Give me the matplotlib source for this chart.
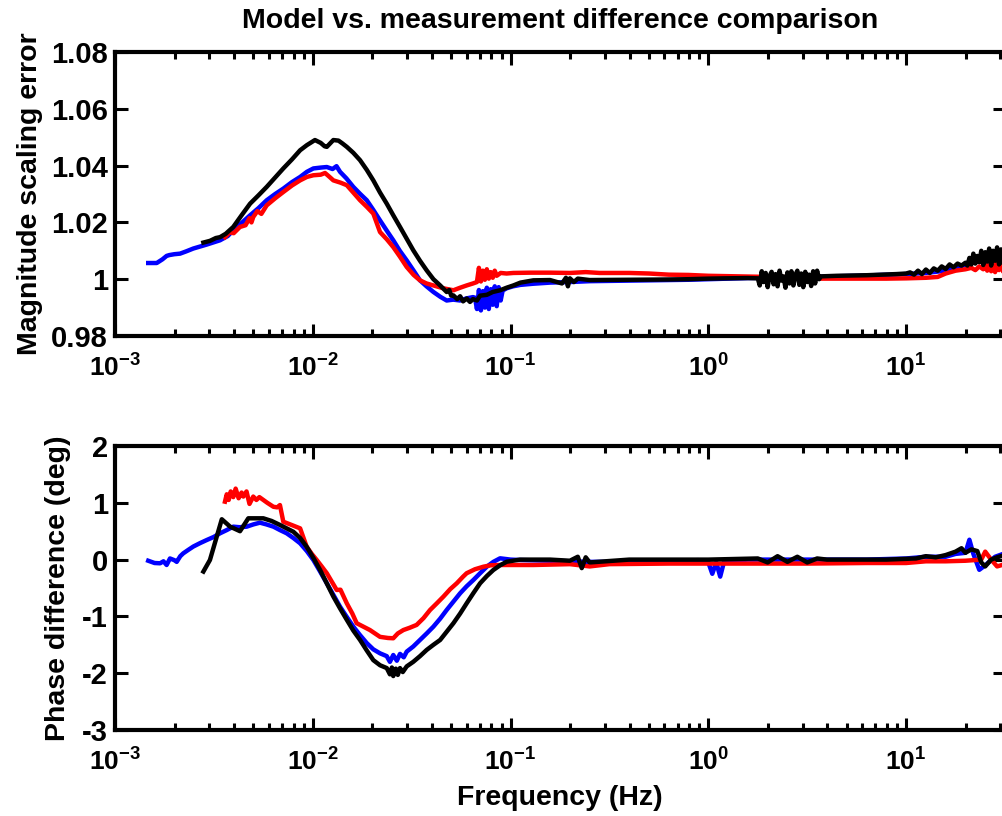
import numpy as np
import matplotlib
matplotlib.use("Agg")
import matplotlib.pyplot as plt
from matplotlib.ticker import FixedLocator, FuncFormatter, LogLocator, NullFormatter

plt.rcParams["font.family"] = ["Liberation Sans", "DejaVu Sans"]
plt.rcParams["font.weight"] = "bold"
plt.rcParams["mathtext.fontset"] = "custom"
plt.rcParams["mathtext.rm"] = "Liberation Sans:bold"
plt.rcParams["mathtext.bf"] = "Liberation Sans:bold"
plt.rcParams["mathtext.default"] = "bf"
plt.rcParams["axes.unicode_minus"] = False

# ---- magnitude scaling error (frequency given as log10 Hz) ----
mag_blue_logf = [-2.832, -2.789, -2.760, -2.739, -2.725, -2.700, -2.671, -2.640, -2.604, -2.536,
                 -2.469, -2.430, -2.402, -2.360, -2.317, -2.275, -2.233, -2.190, -2.149, -2.105,
                 -2.064, -2.030, -1.997, -1.960, -1.929, -1.900, -1.880, -1.862, -1.830, -1.795,
                 -1.760, -1.727, -1.695, -1.660, -1.625, -1.593, -1.560, -1.525, -1.490, -1.458,
                 -1.425, -1.390, -1.355, -1.323, -1.290, -1.255, -1.225, -1.190,
                 -1.180, -1.170, -1.160, -1.150, -1.140, -1.130, -1.120, -1.110, -1.100, -1.090,
                 -1.080, -1.070, -1.060, -1.050, -1.040,
                 -1.020, -0.987, -0.950, -0.886, -0.800, -0.700, -0.600, -0.500, -0.300, -0.100,
                 0.000, 0.200, 0.500, 0.750, 1.000, 1.100, 1.200, 1.250, 1.300, 1.350,
                 1.400, 1.450, 1.490]
mag_blue = [1.0057, 1.0057, 1.0070, 1.0082, 1.0085, 1.0088, 1.0090, 1.0098, 1.0108, 1.0122,
            1.0137, 1.0152, 1.0172, 1.0198, 1.0225, 1.0250, 1.0278, 1.0300, 1.0319, 1.0342,
            1.0360, 1.0378, 1.0390, 1.0393, 1.0395, 1.0388, 1.0398, 1.0378, 1.0355, 1.0325,
            1.0300, 1.0278, 1.0245, 1.0207, 1.0170, 1.0137, 1.0100, 1.0066, 1.0030, 0.9996,
            0.9975, 0.9955, 0.9938, 0.9925, 0.9928, 0.9925, 0.9932, 0.9937,
            0.9935, 0.9895, 0.9962, 0.9890, 0.9958, 0.9900, 0.9970, 0.9895, 0.9965, 0.9910,
            0.9975, 0.9905, 0.9972, 0.9925, 0.9960,
            0.9968, 0.9975, 0.9980, 0.9984, 0.9988, 0.9990, 0.9993, 0.9994, 0.9996, 0.9998,
            1.0000, 1.0004, 1.0008, 1.0012, 1.0018, 1.0022, 1.0030, 1.0042, 1.0050, 1.0060,
            1.0065, 1.0075, 1.0080]

mag_red_logf = [-2.444, -2.420, -2.400, -2.368, -2.340, -2.320, -2.310, -2.301, -2.280, -2.260,
                -2.233, -2.190, -2.149, -2.105, -2.064, -2.030, -1.997, -1.960, -1.938, -1.915,
                -1.896, -1.860, -1.828, -1.795, -1.761, -1.727, -1.694, -1.660, -1.625, -1.593,
                -1.560, -1.525, -1.490, -1.458, -1.425, -1.390, -1.340, -1.289, -1.255, -1.222,
                -1.190, -1.170, -1.160, -1.150, -1.140, -1.130, -1.120, -1.110, -1.100, -1.090,
                -1.080, -1.070, -1.050,
                -1.020, -0.986, -0.900, -0.800, -0.700, -0.620, -0.550, -0.400, -0.300, -0.200,
                -0.100, 0.000, 0.150, 0.300, 0.450, 0.550, 0.700, 0.900, 1.000, 1.100,
                1.160, 1.200, 1.250, 1.300, 1.330, 1.350, 1.370, 1.390, 1.400, 1.410,
                1.420, 1.430, 1.440, 1.450, 1.460, 1.470, 1.480, 1.490, 1.500]
mag_red = [1.0148, 1.0165, 1.0162, 1.0184, 1.0190, 1.0215, 1.0200, 1.0219, 1.0240, 1.0230,
           1.0260, 1.0285, 1.0307, 1.0330, 1.0348, 1.0360, 1.0366, 1.0368, 1.0374, 1.0360,
           1.0348, 1.0340, 1.0331, 1.0305, 1.0278, 1.0255, 1.0231, 1.0166, 1.0140, 1.0113,
           1.0080, 1.0043, 1.0015, 0.9996, 0.9985, 0.9978, 0.9968, 0.9961, 0.9970, 0.9978,
           0.9985, 0.9990, 1.0040, 0.9992, 1.0030, 0.9998, 1.0035, 1.0002, 1.0025, 1.0005,
           1.0030, 1.0012, 1.0022,
           1.0020, 1.0022, 1.0023, 1.0023, 1.0022, 1.0025, 1.0022, 1.0022, 1.0020, 1.0016,
           1.0015, 1.0012, 1.0010, 1.0008, 1.0007, 1.0002, 1.0002, 1.0002, 1.0003, 1.0005,
           1.0008, 1.0020, 1.0030, 1.0035, 1.0040, 1.0032, 1.0045, 1.0035, 1.0055, 1.0030,
           1.0050, 1.0028, 1.0058, 1.0025, 1.0055, 1.0032, 1.0060, 1.0030, 1.0045]

mag_black_logf = [-2.553, -2.520, -2.490, -2.469, -2.440, -2.402, -2.360, -2.317, -2.275, -2.233,
                  -2.190, -2.149, -2.105, -2.064, -2.030, -1.989, -1.960, -1.940, -1.929, -1.910,
                  -1.896, -1.870, -1.850, -1.828, -1.795, -1.761, -1.727, -1.694, -1.660, -1.626,
                  -1.593, -1.559, -1.525, -1.492, -1.458, -1.424, -1.390, -1.356, -1.323, -1.310,
                  -1.300, -1.289, -1.270, -1.255, -1.240, -1.222, -1.205, -1.190, -1.170, -1.154,
                  -1.120, -1.090, -1.053, -1.020, -0.986, -0.950,
                  -0.885, -0.800, -0.740, -0.720, -0.710, -0.700, -0.680, -0.660, -0.600, -0.400,
                  -0.200, -0.100, 0.000, 0.080, 0.200,
                  0.250, 0.260, 0.270, 0.280, 0.290, 0.300, 0.310, 0.320, 0.330, 0.340,
                  0.350, 0.360, 0.370, 0.380, 0.390, 0.400, 0.410, 0.420, 0.430, 0.440,
                  0.450, 0.460, 0.470, 0.480, 0.490, 0.500, 0.510, 0.520, 0.530, 0.540,
                  0.550, 0.560, 0.570, 0.650, 0.800, 0.950,
                  1.000, 1.020, 1.040, 1.060, 1.080, 1.100, 1.120, 1.140, 1.160, 1.180,
                  1.200, 1.220, 1.240, 1.260, 1.280, 1.300,
                  1.310, 1.320, 1.330, 1.340, 1.350, 1.360, 1.370, 1.380, 1.390, 1.400,
                  1.410, 1.420, 1.430, 1.440, 1.450, 1.460, 1.470, 1.480, 1.490, 1.500]
mag_black = [1.0129, 1.0135, 1.0145, 1.0148, 1.0160, 1.0184, 1.0225, 1.0266, 1.0295, 1.0325,
             1.0358, 1.0390, 1.0422, 1.0454, 1.0472, 1.0490, 1.0480, 1.0468, 1.0466, 1.0480,
             1.0490, 1.0488, 1.0478, 1.0466, 1.0445, 1.0419, 1.0385, 1.0348, 1.0305, 1.0266,
             1.0225, 1.0184, 1.0142, 1.0102, 1.0065, 1.0031, 1.0000, 0.9978, 0.9955, 0.9962,
             0.9942, 0.9943, 0.9930, 0.9940, 0.9922, 0.9932, 0.9920, 0.9930, 0.9925, 0.9942,
             0.9945, 0.9955, 0.9961, 0.9970, 0.9978, 0.9988,
             0.9996, 0.9997, 0.9985, 1.0005, 0.9975, 1.0003, 0.9990, 1.0002, 0.9997, 0.9998,
             0.9999, 1.0000, 1.0002, 1.0003, 1.0004,
             1.0003, 0.9978, 1.0028, 0.9990, 1.0022, 0.9972, 1.0012, 1.0026, 0.9982, 1.0018,
             0.9975, 1.0030, 0.9995, 1.0010, 0.9970, 1.0024, 0.9985, 1.0028, 0.9978, 1.0015,
             1.0030, 0.9980, 1.0020, 0.9972, 1.0026, 0.9990, 1.0016, 0.9976, 1.0028, 0.9985,
             1.0030, 1.0000, 1.0010, 1.0012, 1.0014, 1.0018,
             1.0020, 1.0024, 1.0016, 1.0030, 1.0018, 1.0034, 1.0022, 1.0038, 1.0030, 1.0045,
             1.0036, 1.0052, 1.0042, 1.0055, 1.0048, 1.0058,
             1.0048, 1.0075, 1.0052, 1.0090, 1.0055, 1.0082, 1.0060, 1.0100, 1.0050, 1.0095,
             1.0062, 1.0108, 1.0048, 1.0100, 1.0065, 1.0112, 1.0052, 1.0105, 1.0060, 1.0095]

# ---- phase difference in degrees (frequency given as log10 Hz) ----
ph_blue_logf = [-2.832, -2.800, -2.772, -2.755, -2.739, -2.722, -2.700, -2.688, -2.670, -2.655,
                -2.630, -2.604, -2.570, -2.536, -2.500, -2.469, -2.435, -2.402, -2.370, -2.334,
                -2.300, -2.267, -2.235, -2.199, -2.166, -2.132, -2.098, -2.064, -2.030, -1.997,
                -1.963, -1.929, -1.896, -1.862, -1.828, -1.795, -1.761, -1.727, -1.694, -1.660,
                -1.626, -1.610, -1.593, -1.575, -1.559, -1.540, -1.525, -1.492, -1.458, -1.424,
                -1.390, -1.356, -1.323, -1.289, -1.255, -1.222, -1.188, -1.154, -1.120, -1.087,
                -1.053, -1.000, -0.952,
                -0.800, -0.600, -0.400, -0.200, -0.050, 0.000, 0.020, 0.040, 0.060, 0.080,
                0.200, 0.500, 0.800, 1.000, 1.100, 1.200, 1.250, 1.300, 1.320, 1.340,
                1.370, 1.400, 1.450, 1.490]
ph_blue = [-0.02, -0.06, -0.065, -0.03, -0.095, 0.02, -0.01, -0.04, 0.06, 0.11,
           0.17, 0.23, 0.29, 0.345, 0.40, 0.463, 0.52, 0.58, 0.57, 0.58,
           0.62, 0.65, 0.62, 0.58, 0.52, 0.463, 0.38, 0.287, 0.15, -0.007,
           -0.21, -0.417, -0.62, -0.83, -1.01, -1.18, -1.33, -1.47, -1.58, -1.65,
           -1.70, -1.80, -1.68, -1.78, -1.66, -1.72, -1.62, -1.53, -1.415, -1.30,
           -1.18, -1.04, -0.887, -0.74, -0.593, -0.47, -0.359, -0.24, -0.125, -0.04,
           0.023, 0.0, -0.007,
           -0.02, -0.04, -0.04, -0.02, -0.01, -0.05, -0.25, -0.05, -0.30, -0.03,
           0.0, 0.0, 0.0, 0.02, 0.05, 0.05, 0.10, 0.12, 0.35, 0.10,
           -0.18, -0.10, 0.05, 0.10]

ph_red_logf = [-2.444, -2.435, -2.425, -2.415, -2.402, -2.390, -2.375, -2.360, -2.351, -2.335,
               -2.320, -2.301, -2.285, -2.270, -2.250, -2.230, -2.199, -2.180, -2.166, -2.149,
               -2.100, -2.064, -2.031, -2.005, -1.980, -1.955, -1.929, -1.879, -1.860, -1.828,
               -1.800, -1.778, -1.711, -1.660, -1.620, -1.593, -1.570, -1.542, -1.510, -1.475,
               -1.440, -1.407, -1.373, -1.339, -1.305, -1.272, -1.240, -1.222, -1.180, -1.137,
               -1.100, -1.053, -0.885, -0.700, -0.600, -0.500, -0.200, 0.000, 0.500, 0.800,
               1.000, 1.100, 1.200, 1.300, 1.380, 1.400, 1.430, 1.460, 1.500]
ph_red = [1.02, 1.15, 1.05, 1.20, 1.10, 1.25, 1.08, 1.18, 1.11, 1.20,
          0.98, 1.11, 1.05, 1.10, 1.05, 1.00, 0.93, 0.92, 0.96, 0.667,
          0.60, 0.55, 0.227, 0.10, -0.007, -0.12, -0.24, -0.535, -0.53, -0.77,
          -0.95, -1.12, -1.24, -1.36, -1.38, -1.385, -1.30, -1.24, -1.20, -1.15,
          -1.03, -0.887, -0.77, -0.65, -0.52, -0.417, -0.30, -0.24, -0.17, -0.125,
          -0.10, -0.095, -0.095, -0.08, -0.12, -0.08, -0.07, -0.07, -0.07, -0.06,
          -0.06, -0.03, -0.03, -0.02, 0.00, 0.14, 0.00, -0.12, -0.08]

ph_black_logf = [-2.553, -2.520, -2.460, -2.418, -2.368, -2.326, -2.290, -2.250, -2.208, -2.166,
                 -2.132, -2.098, -2.064, -2.031, -1.997, -1.963, -1.929, -1.896, -1.862, -1.828,
                 -1.795, -1.761, -1.727, -1.694, -1.660, -1.626, -1.610, -1.600, -1.593, -1.580,
                 -1.570, -1.559, -1.545, -1.525, -1.492,
                 -1.458, -1.424, -1.390, -1.356, -1.323, -1.289, -1.255, -1.222, -1.188, -1.154,
                 -1.120, -1.087, -1.053, -1.019, -0.952, -0.800, -0.700, -0.660, -0.640, -0.620,
                 -0.600, -0.400, -0.200, 0.000, 0.250, 0.300, 0.350, 0.400, 0.450, 0.500,
                 0.550, 0.600, 0.900, 1.050, 1.100, 1.150, 1.200, 1.250, 1.280, 1.300,
                 1.330, 1.360, 1.380, 1.400, 1.430, 1.460, 1.500]
ph_black = [-0.21, -0.007, 0.71, 0.58, 0.50, 0.727, 0.727, 0.727, 0.68, 0.61,
            0.55, 0.49, 0.38, 0.227, 0.03, -0.183, -0.42, -0.65, -0.86, -1.06,
            -1.25, -1.415, -1.60, -1.77, -1.86, -1.91, -2.02, -1.90, -2.05, -1.92,
            -2.03, -1.91, -1.98, -1.88, -1.80,
            -1.70, -1.59, -1.50, -1.415, -1.27, -1.12, -0.95, -0.77, -0.59, -0.417,
            -0.29, -0.183, -0.10, -0.037, 0.0, 0.0, -0.02, 0.05, -0.15, 0.04,
            -0.05, 0.0, 0.0, 0.0, 0.02, -0.05, 0.06, -0.04, 0.05, -0.05,
            0.02, 0.0, 0.0, 0.02, 0.06, 0.04, 0.08, 0.14, 0.20, 0.12,
            0.18, 0.15, -0.05, -0.12, 0.00, 0.04, 0.08]

mag_yticks = [0.98, 1.0, 1.02, 1.04, 1.06, 1.08]
ph_yticks = [-3, -2, -1, 0, 1, 2]
x_limits = (1e-3, 10 ** 1.5)

title_text = "Model vs. measurement difference comparison"
mag_ylabel = "Magnitude scaling error"
ph_ylabel = "Phase difference (deg)"
x_label = "Frequency (Hz)"

FS_YTICK = 21
FS_XTICK = 19
FS_LABEL = 20.5
LW = 3.2

fig = plt.figure(figsize=(10.02, 8.16), dpi=100)
W, H = 1002.0, 816.0
left_px, right_px = 115.0, 1005.0
ax_mag = fig.add_axes([left_px / W, (H - 336) / H, (right_px - left_px) / W, 284 / H])
ax_ph = fig.add_axes([left_px / W, (H - 730) / H, (right_px - left_px) / W, 284 / H])


def hz(logf):
    return np.power(10.0, np.asarray(logf))


ax_mag.plot(hz(mag_blue_logf), mag_blue, color="#0000ff", lw=LW)
ax_mag.plot(hz(mag_red_logf), mag_red, color="#ff0000", lw=LW)
ax_mag.plot(hz(mag_black_logf), mag_black, color="black", lw=LW)

ax_ph.plot(hz(ph_blue_logf), ph_blue, color="#0000ff", lw=LW)
ax_ph.plot(hz(ph_red_logf), ph_red, color="#ff0000", lw=LW)
ax_ph.plot(hz(ph_black_logf), ph_black, color="black", lw=LW)


def fmt_num(v, pos=None):
    return "%g" % v


for ax, yt in ((ax_mag, mag_yticks), (ax_ph, ph_yticks)):
    ax.set_xscale("log")
    ax.set_xlim(*x_limits)
    ax.set_ylim(yt[0], yt[-1])
    ax.yaxis.set_major_locator(FixedLocator(yt))
    ax.yaxis.set_major_formatter(FuncFormatter(fmt_num))
    ax.xaxis.set_major_locator(LogLocator(base=10, numticks=10))
    ax.xaxis.set_minor_locator(LogLocator(base=10, subs=np.arange(2, 10), numticks=20))
    ax.xaxis.set_minor_formatter(NullFormatter())
    ax.tick_params(which="both", direction="in", top=True, right=True, width=2.2)
    ax.tick_params(which="major", length=9)
    ax.tick_params(which="minor", length=5)
    ax.tick_params(axis="x", which="major", pad=13, labelsize=FS_XTICK)
    ax.tick_params(axis="y", which="major", pad=5, labelsize=FS_YTICK)
    for sp in ax.spines.values():
        sp.set_linewidth(3.0)
    for lab in ax.get_xticklabels() + ax.get_yticklabels():
        lab.set_fontweight("bold")

ax_mag.set_title(title_text, fontsize=FS_LABEL, fontweight="bold", pad=17)
ax_mag.set_ylabel(mag_ylabel, fontsize=FS_LABEL, fontweight="bold", labelpad=6)
ax_ph.set_ylabel(ph_ylabel, fontsize=FS_LABEL, fontweight="bold", labelpad=8)
ax_ph.set_xlabel(x_label, fontsize=FS_LABEL, fontweight="bold", labelpad=7)

fig.savefig("out.png", dpi=100)
